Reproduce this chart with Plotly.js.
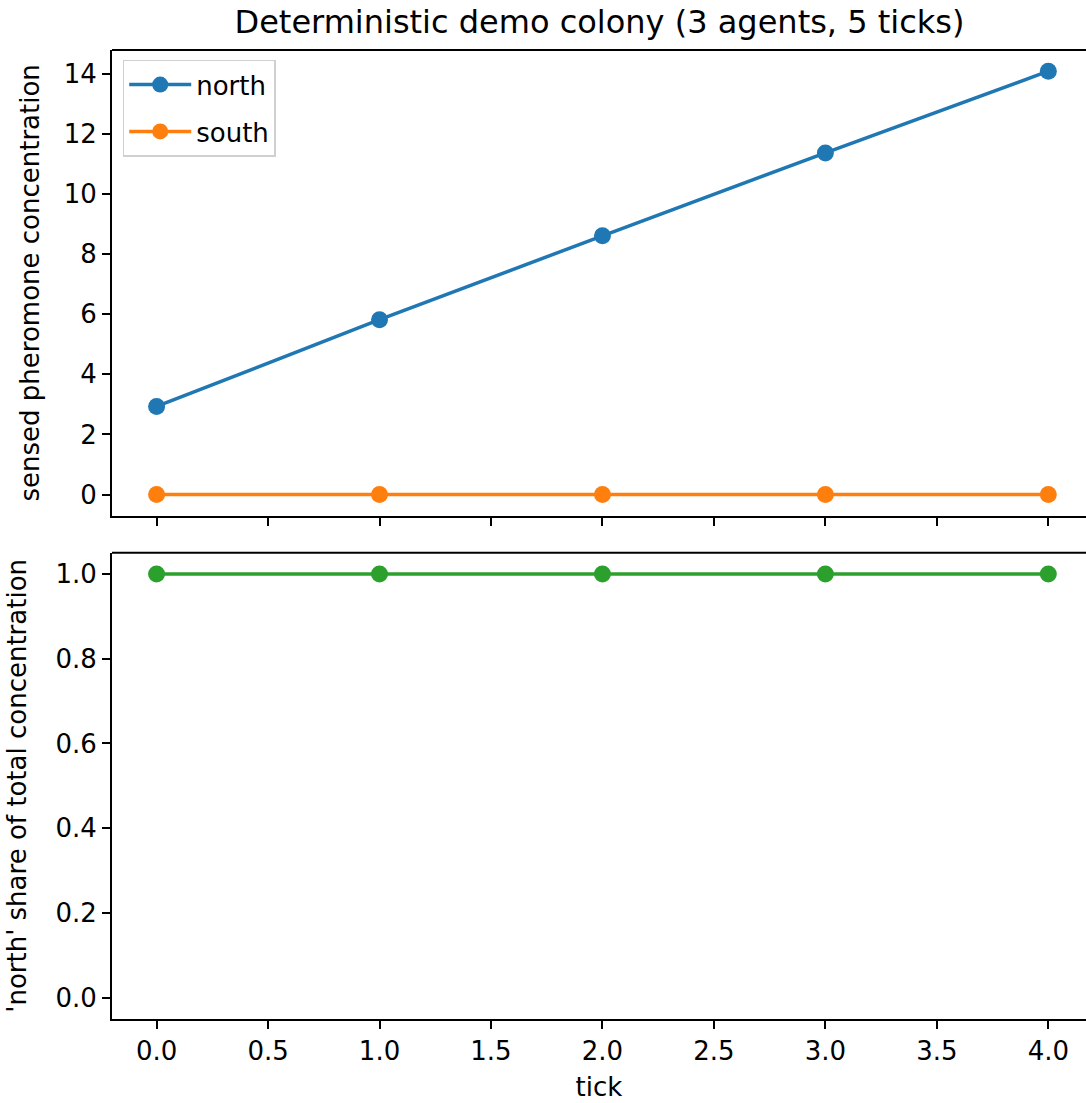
<!DOCTYPE html>
<html>
<head>
<meta charset="utf-8">
<script src="https://cdn.plot.ly/plotly-3.0.1.min.js"></script>
<style>html,body{margin:0;padding:0;background:#fff;}</style>
</head>
<body>
<div id="chart" style="width:1086px;height:1103px;"></div>
<script>
const ticks = [0, 1, 2, 3, 4];
const northConc = [2.93, 5.82, 8.61, 11.37, 14.09];
const southConc = [0, 0, 0, 0, 0];
const northShare = [1, 1, 1, 1, 1];
const titleText = "Deterministic demo colony (3 agents, 5 ticks)";

const FONT = "DejaVu Sans, sans-serif";
const FS = 26;
const traces = [
  {x: ticks, y: northConc, name: "north", legendgroup: "n", mode: "lines+markers", xaxis: "x", yaxis: "y",
   line: {color: "#1f77b4", width: 3.5}, marker: {color: "#1f77b4", size: 17}},
  {x: ticks, y: southConc, name: "south", legendgroup: "s", mode: "lines+markers", xaxis: "x", yaxis: "y",
   line: {color: "#ff7f0e", width: 3.5}, marker: {color: "#ff7f0e", size: 17}},
  {x: ticks, y: northShare, name: "share", mode: "lines+markers", xaxis: "x2", yaxis: "y2", showlegend: false,
   line: {color: "#2ca02c", width: 3.5}, marker: {color: "#2ca02c", size: 17}}
];

const axCommon = {
  showgrid: false, zeroline: false, showline: true, linecolor: "#000", linewidth: 2,
  ticks: "outside", ticklen: 8, tickwidth: 2, tickcolor: "#000",
  tickfont: {family: FONT, size: FS, color: "#000"}
};

const layout = {
  width: 1086, height: 1103,
  margin: {l: 112, r: 0, t: 50, b: 84},
  paper_bgcolor: "#fff", plot_bgcolor: "#fff",
  font: {family: FONT, color: "#000"},
  title: {text: titleText, font: {family: FONT, size: 32, color: "#000"}, x: 0.552, xanchor: "center", y: 0.98, yanchor: "middle"},
  showlegend: true,
  legend: {x: 0.011, y: 0.99, xanchor: "left", yanchor: "top", bgcolor: "rgba(255,255,255,0.8)",
           bordercolor: "#d0d0d0", borderwidth: 1.5, font: {family: FONT, size: FS, color: "#000"},
           traceorder: "grouped", tracegroupgap: 10, itemwidth: 62},
  xaxis: Object.assign({}, axCommon, {anchor: "y", range: [-0.2, 4.169], dtick: 0.5, tick0: 0, showticklabels: false, matches: "x2"}),
  yaxis: Object.assign({}, axCommon, {domain: [0.5194, 1], range: [-0.705, 14.795], dtick: 2, tick0: 0,
    title: {text: "sensed pheromone concentration", standoff: 17, font: {family: FONT, size: FS, color: "#000"}}}),
  xaxis2: Object.assign({}, axCommon, {anchor: "y2", range: [-0.2, 4.169], dtick: 0.5, tick0: 0, tickformat: ".1f",
    title: {text: "tick", standoff: 13, font: {family: FONT, size: FS, color: "#000"}}}),
  yaxis2: Object.assign({}, axCommon, {domain: [0, 0.4812], range: [-0.05, 1.05], dtick: 0.2, tick0: 0, tickformat: ".1f",
    title: {text: "'north' share of total concentration", standoff: 21, font: {family: FONT, size: FS, color: "#000"}}}),
  shapes: [
    {type: "line", xref: "paper", yref: "paper", x0: 0, x1: 1, y0: 1, y1: 1, line: {color: "#000", width: 2}},
    {type: "line", xref: "paper", yref: "paper", x0: 0, x1: 1, y0: 0.4812, y1: 0.4812, line: {color: "#000", width: 2}}
  ]
};

Plotly.newPlot("chart", traces, layout, {displayModeBar: false, staticPlot: true});
</script>
</body>
</html>
